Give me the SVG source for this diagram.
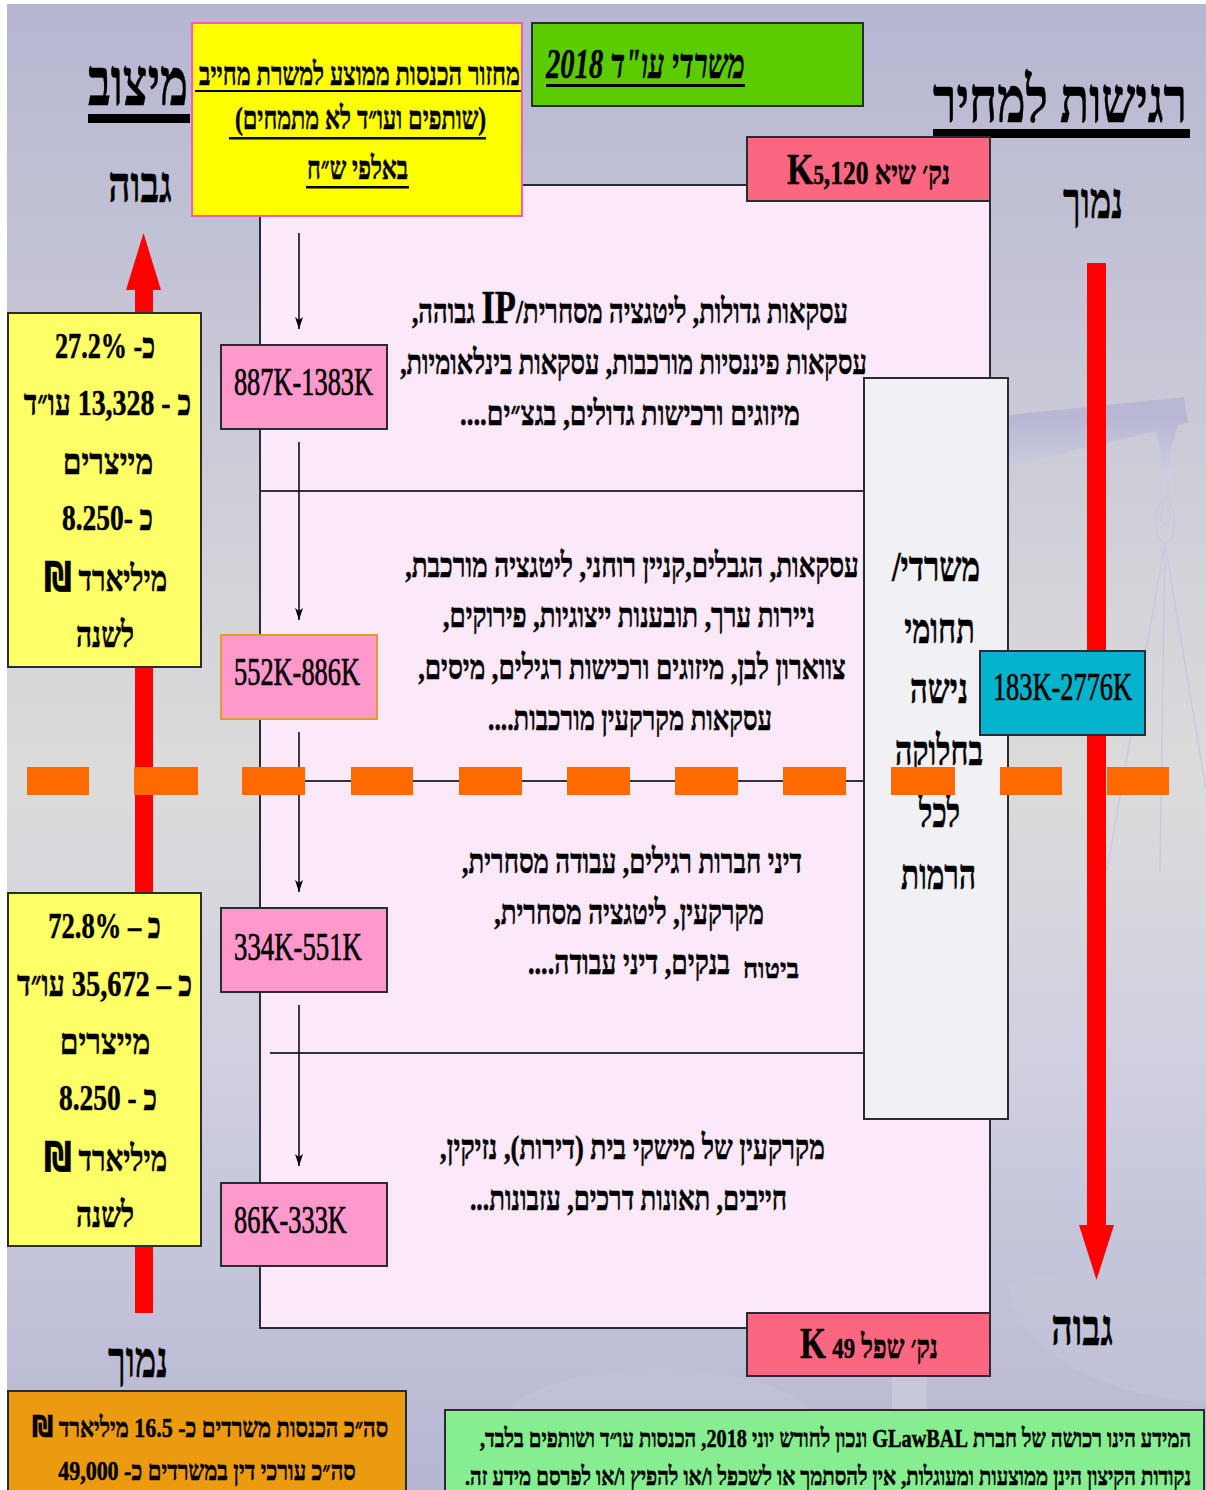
<svg xmlns="http://www.w3.org/2000/svg" width="1206" height="1490" viewBox="0 0 1206 1490">
<style>
text{font-family:"Liberation Serif","DejaVu Serif",serif;font-weight:700;fill:#000;stroke:#000;stroke-width:.5;direction:rtl;text-anchor:middle}
.num{font-weight:400;stroke-width:.7;direction:ltr}
.b{stroke:#2b2b33;stroke-width:2}
.u{fill:#000}
.wm{fill:url(#beam)}
.rope{fill:none;stroke:#c9c9e2;stroke-width:1.500}
.dash{fill:#ff6a00}
.red{fill:#f00}
.lbl{fill:#ff99cc}
.conn{stroke:#000;stroke-width:1.500;fill:none;marker-end:url(#ah)}
.sep{stroke:#333;stroke-width:2;fill:none}
.sh{font-family:"DejaVu Sans",sans-serif}
</style>
<defs>
<linearGradient id="bg" x1="0" y1="0" x2="0" y2="1"><stop offset="0" stop-color="#b6b6d2"/><stop offset=".52" stop-color="#dcdcdc"/><stop offset=".72" stop-color="#cfcfe0"/><stop offset="1" stop-color="#b6b6d2"/></linearGradient>
<linearGradient id="beam" gradientUnits="userSpaceOnUse" x1="0" y1="420" x2="0" y2="480"><stop offset="0" stop-color="#b8b8d4"/><stop offset="1" stop-color="#d0d0e2"/></linearGradient>
<marker id="ah" markerUnits="userSpaceOnUse" markerWidth="12" markerHeight="8" refX="12" refY="4" orient="auto" viewBox="0 0 12 8"><path d="M0 0L3 4L0 8L12 4Z" fill="#000"/></marker>
</defs>
<rect width="1206" height="1490" fill="#fff"/>
<rect x="7" y="4" width="1199" height="1486" fill="url(#bg)"/>
<g id="watermark">
<path class="wm" d="M1008 415L1184 397L1188 423L1178 425L1171 447L1172 478H1161L1162 455L1156 431L1008 466Z"/>
<path class="rope" d="M1165 478C1150 495 1180 510 1165 525C1150 510 1180 495 1165 478M1165 495C1150 515 1155 543 1165 543C1175 543 1180 515 1165 495M1165 543L1107 870M1165 543L1160 870M1165 543L1206 790"/>
<path d="M1008 1285C1060 1265 1160 1268 1206 1274V1402C1120 1400 1020 1360 1008 1285Z" fill="#c8c8dc" opacity=".4"/>
<path d="M507 1412C540 1360 760 1350 811 1412Z" fill="#c3c3da" opacity=".5"/>
<rect x="892" y="1370" width="35" height="42" fill="#c8c8dc"/>
</g>
<g id="main-panel">
<rect x="260" y="185" width="730" height="1143" fill="#fbe8f9" class="b"/>
</g>
<g id="connectors">
<path class="sep" d="M260 491H864M260 781H864M270 1053H864"/>
<path class="conn" d="M299 233V329"/>
<path class="conn" d="M299 442V620"/>
<path class="conn" d="M299 732V892"/>
<path class="conn" d="M299 1005V1166"/>
</g>
<g id="arrow-left"><path class="red" d="M143.500 233L161 290H153V1313H135V290H126Z"/></g>
<g id="arrow-right"><path class="red" d="M1087 263H1106V1225H1114L1096.500 1280L1079 1225H1087Z"/></g>
<g id="title-position">
<text transform="translate(138 105) scale(.6 1)" font-size="66" textLength="167" lengthAdjust="spacingAndGlyphs">מיצוב</text>
<rect class="u" x="88" y="114" width="102" height="9"/>
</g>
<g id="title-sensitivity">
<text transform="translate(1060 122) scale(.75 1)" font-size="64" textLength="339" lengthAdjust="spacingAndGlyphs">רגישות למחיר</text>
<rect class="u" x="933" y="129" width="257" height="9"/>
</g>
<g id="label-high-left"><text transform="translate(140 202) scale(.65 1)" font-size="50" textLength="98" lengthAdjust="spacingAndGlyphs">גבוה</text></g>
<g id="label-low-right"><text transform="translate(1093 218) scale(.65 1)" font-size="50" textLength="92" lengthAdjust="spacingAndGlyphs">נמוך</text></g>
<g id="label-high-right"><text transform="translate(1082 1345) scale(.65 1)" font-size="50" textLength="95" lengthAdjust="spacingAndGlyphs">גבוה</text></g>
<g id="label-low-left"><text transform="translate(138 1377) scale(.65 1)" font-size="50" textLength="92" lengthAdjust="spacingAndGlyphs">נמוך</text></g>
<g id="node-heading">
<rect x="192" y="23" width="330" height="193" fill="#ff0" stroke="#ff55cc" stroke-width="2"/>
<text transform="translate(359.500 85) scale(.67 1)" font-size="32" textLength="479" lengthAdjust="spacingAndGlyphs">מחזור הכנסות ממוצע למשרת מחייב</text>
<rect class="u" x="195" y="90" width="326" height="2"/>
<text transform="translate(360.500 129) scale(.67 1)" font-size="32" textLength="375" lengthAdjust="spacingAndGlyphs">(שותפים ועו״ד לא מתמחים)</text>
<rect class="u" x="229" y="137" width="257" height="2.500"/>
<text transform="translate(357.500 179) scale(.67 1)" font-size="32" textLength="151" lengthAdjust="spacingAndGlyphs">באלפי ש״ח</text>
<rect class="u" x="306" y="186" width="103" height="2.500"/>
</g>
<g id="node-year">
<rect x="532" y="23" width="331" height="83" fill="#5acc00" class="b"/>
<text transform="translate(645.500 78) scale(.7 1)" font-size="42" font-style="italic" font-weight="400" textLength="284" lengthAdjust="spacingAndGlyphs">משרדי עו"ד 2018</text>
<rect class="u" x="546" y="84" width="199" height="3"/>
</g>
<g id="node-peak">
<rect x="747" y="137" width="243" height="64" fill="#fb6680" class="b"/>
<text transform="translate(868.500 184) scale(.7 1)" font-size="33" textLength="233" lengthAdjust="spacingAndGlyphs">נק׳ שיא <tspan font-size="44">K</tspan><tspan font-size="27">5</tspan>,120</text>
</g>
<g id="node-floor">
<rect x="747" y="1313" width="243" height="63" fill="#fb6680" class="b"/>
<text transform="translate(869 1358) scale(.7 1)" font-size="33" textLength="197" lengthAdjust="spacingAndGlyphs">נק׳ שפל <tspan font-size="30">49</tspan> <tspan font-size="44">K</tspan></text>
</g>
<g id="tier-1">
<rect class="lbl b" x="221" y="345" width="166" height="84"/>
<text class="num" transform="translate(303.500 395) scale(.6 1)" font-size="40" textLength="232" lengthAdjust="spacingAndGlyphs">887K-1383K</text>
<text transform="translate(630 323) scale(.65 1)" font-size="34" textLength="671" lengthAdjust="spacingAndGlyphs">עסקאות גדולות, ליטגציה מסחרית/<tspan font-size="46">IP</tspan> גבוהה,</text>
<text transform="translate(633.500 374) scale(.65 1)" font-size="34" textLength="718" lengthAdjust="spacingAndGlyphs">עסקאות פיננסיות מורכבות, עסקאות בינלאומיות,</text>
<text transform="translate(630 425) scale(.65 1)" font-size="34" textLength="523" lengthAdjust="spacingAndGlyphs">מיזוגים ורכישות גדולים, בגצ״ים....</text>
</g>
<g id="tier-2">
<rect class="lbl" x="221" y="635" width="156" height="84" stroke="#d9a030" stroke-width="2"/>
<text class="num" transform="translate(297 685) scale(.6 1)" font-size="40" textLength="210" lengthAdjust="spacingAndGlyphs">552K-886K</text>
<text transform="translate(632 576.500) scale(.65 1)" font-size="34" textLength="698" lengthAdjust="spacingAndGlyphs">עסקאות, הגבלים,קניין רוחני, ליטגציה מורכבת,</text>
<text transform="translate(629 627) scale(.65 1)" font-size="34" textLength="572" lengthAdjust="spacingAndGlyphs">ניירות ערך, תובענות ייצוגיות, פירוקים,</text>
<text transform="translate(632 678.500) scale(.65 1)" font-size="34" textLength="658" lengthAdjust="spacingAndGlyphs">צווארון לבן, מיזוגים ורכישות רגילים, מיסים,</text>
<text transform="translate(630 730) scale(.65 1)" font-size="34" textLength="437" lengthAdjust="spacingAndGlyphs">עסקאות מקרקעין מורכבות....</text>
</g>
<g id="tier-3">
<rect class="lbl b" x="221" y="908" width="166" height="84"/>
<text class="num" transform="translate(298 960) scale(.6 1)" font-size="40" textLength="213" lengthAdjust="spacingAndGlyphs">334K-551K</text>
<text transform="translate(632 873) scale(.65 1)" font-size="34" textLength="523" lengthAdjust="spacingAndGlyphs">דיני חברות רגילים, עבודה מסחרית,</text>
<text transform="translate(629 923.500) scale(.65 1)" font-size="34" textLength="415" lengthAdjust="spacingAndGlyphs">מקרקעין, ליטגציה מסחרית,</text>
<text transform="translate(771 978) scale(.8 1)" font-size="28" textLength="70" lengthAdjust="spacingAndGlyphs">ביטוח</text>
<text transform="translate(629 974) scale(.65 1)" font-size="34" textLength="311" lengthAdjust="spacingAndGlyphs">בנקים, דיני עבודה....</text>
</g>
<g id="tier-4">
<rect class="lbl b" x="221" y="1183" width="166" height="83"/>
<text class="num" transform="translate(290.500 1233) scale(.6 1)" font-size="40" textLength="188" lengthAdjust="spacingAndGlyphs">86K-333K</text>
<text transform="translate(632.500 1158.500) scale(.65 1)" font-size="34" textLength="592" lengthAdjust="spacingAndGlyphs">מקרקעין של מישקי בית (דירות), נזיקין,</text>
<text transform="translate(628.500 1210) scale(.65 1)" font-size="34" textLength="488" lengthAdjust="spacingAndGlyphs">חייבים, תאונות דרכים, עזבונות...</text>
</g>
<g id="node-niche">
<rect x="864" y="378" width="144" height="741" fill="#f1f0f5" class="b"/>
<text transform="translate(936 581) scale(.7 1)" font-size="42" textLength="126" lengthAdjust="spacingAndGlyphs">משרדי/</text>
<text transform="translate(939.500 643) scale(.7 1)" font-size="42" textLength="101" lengthAdjust="spacingAndGlyphs">תחומי</text>
<text transform="translate(939 703) scale(.7 1)" font-size="42" textLength="83" lengthAdjust="spacingAndGlyphs">נישה</text>
<text transform="translate(939 765) scale(.7 1)" font-size="42" textLength="126" lengthAdjust="spacingAndGlyphs">בחלוקה</text>
<text transform="translate(939.500 827) scale(.7 1)" font-size="42" textLength="59" lengthAdjust="spacingAndGlyphs">לכל</text>
<text transform="translate(938.500 889) scale(.7 1)" font-size="42" textLength="107" lengthAdjust="spacingAndGlyphs">הרמות</text>
</g>
<g id="node-niche-range">
<rect x="980" y="651" width="165" height="84" fill="#04b4cc" class="b"/>
<text class="num" transform="translate(1062.500 700) scale(.6 1)" font-size="40" textLength="232" lengthAdjust="spacingAndGlyphs">183K-2776K</text>
</g>
<g id="divider">
<rect class="dash" x="27" y="767" width="62" height="28"/><rect class="dash" x="134" y="767" width="64" height="28"/><rect class="dash" x="242" y="767" width="63" height="28"/><rect class="dash" x="351" y="767" width="62" height="28"/><rect class="dash" x="459" y="767" width="63" height="28"/><rect class="dash" x="567" y="767" width="63" height="28"/><rect class="dash" x="675" y="767" width="63" height="28"/><rect class="dash" x="783" y="767" width="63" height="28"/><rect class="dash" x="891" y="767" width="64" height="28"/><rect class="dash" x="1000" y="767" width="62" height="28"/><rect class="dash" x="1107" y="767" width="62" height="28"/>
</g>
<g id="node-top-share">
<rect x="8" y="313" width="193" height="354" fill="#ff6" class="b"/>
<text transform="translate(105 358) scale(.7 1)" font-size="36" textLength="143" lengthAdjust="spacingAndGlyphs">כ- 27.2%</text>
<text transform="translate(107.500 415) scale(.7 1)" font-size="36" textLength="239" lengthAdjust="spacingAndGlyphs">כ - 13,328 עו״ד</text>
<text transform="translate(108 474) scale(.7 1)" font-size="36" textLength="129" lengthAdjust="spacingAndGlyphs">מייצרים</text>
<text transform="translate(107.500 530) scale(.7 1)" font-size="36" textLength="130" lengthAdjust="spacingAndGlyphs">כ -8.250</text>
<text transform="translate(105.500 591) scale(.7 1)" font-size="36" textLength="176" lengthAdjust="spacingAndGlyphs">מיליארד <tspan class="sh" font-size="40">₪</tspan></text>
<text transform="translate(105 647) scale(.7 1)" font-size="36" textLength="83" lengthAdjust="spacingAndGlyphs">לשנה</text>
</g>
<g id="node-bottom-share">
<rect x="8" y="893" width="193" height="353" fill="#ff6" class="b"/>
<text transform="translate(104.500 938) scale(.7 1)" font-size="36" textLength="161" lengthAdjust="spacingAndGlyphs">כ – 72.8%</text>
<text transform="translate(104.500 996) scale(.7 1)" font-size="36" textLength="250" lengthAdjust="spacingAndGlyphs">כ – 35,672 עו״ד</text>
<text transform="translate(105 1054) scale(.7 1)" font-size="36" textLength="129" lengthAdjust="spacingAndGlyphs">מייצרים</text>
<text transform="translate(108 1110) scale(.7 1)" font-size="36" textLength="140" lengthAdjust="spacingAndGlyphs">כ - 8.250</text>
<text transform="translate(105.500 1171) scale(.7 1)" font-size="36" textLength="176" lengthAdjust="spacingAndGlyphs">מיליארד <tspan class="sh" font-size="40">₪</tspan></text>
<text transform="translate(105 1227) scale(.7 1)" font-size="36" textLength="83" lengthAdjust="spacingAndGlyphs">לשנה</text>
</g>
<g id="node-totals">
<rect x="8" y="1391" width="398" height="110" fill="#ec9b10" class="b"/>
<text transform="translate(210 1437) scale(.75 1)" font-size="28" textLength="475" lengthAdjust="spacingAndGlyphs">סה״כ הכנסות משרדים כ- 16.5 מיליארד <tspan class="sh" font-size="30">₪</tspan></text>
<text transform="translate(207 1480) scale(.75 1)" font-size="28" textLength="397" lengthAdjust="spacingAndGlyphs">סה״כ עורכי דין במשרדים כ- 49,000</text>
</g>
<g id="node-note">
<rect x="445" y="1410" width="759" height="90" fill="#86ee90" class="b"/>
<text transform="translate(835.500 1447) scale(.65 1)" font-size="26" textLength="1094" lengthAdjust="spacingAndGlyphs">המידע הינו רכושה של חברת GLawBAL ונכון לחודש יוני 2018, הכנסות עו״ד ושותפים בלבד,</text>
<text transform="translate(828 1485) scale(.65 1)" font-size="26" textLength="1117" lengthAdjust="spacingAndGlyphs">נקודות הקיצון הינן ממוצעות ומעוגלות, אין להסתמך או לשכפל ו/או להפיץ ו/או לפרסם מידע זה.</text>
</g>
</svg>
